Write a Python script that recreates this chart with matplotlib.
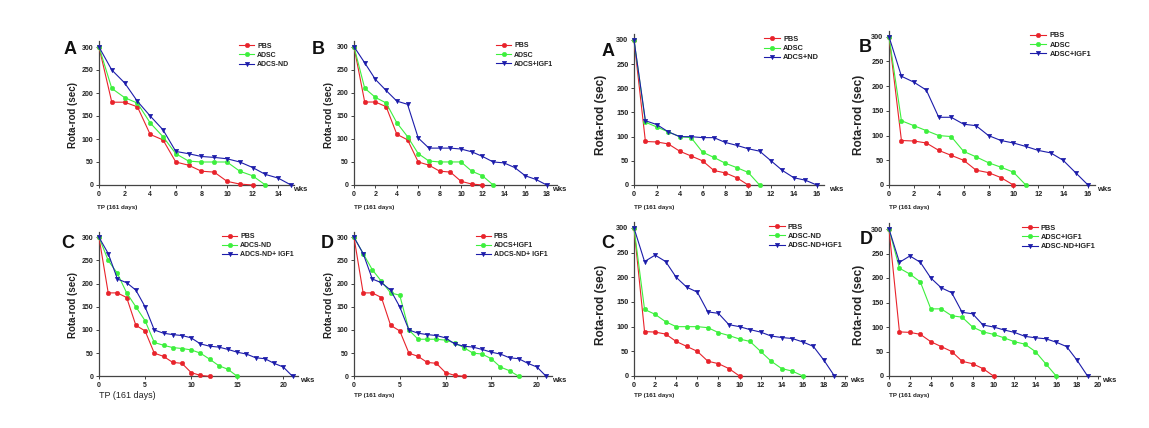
import matplotlib
matplotlib.use("Agg")
import matplotlib.pyplot as plt

plt.rcParams['font.family'] = ['Liberation Sans', 'DejaVu Sans']

W, H = 1149, 428

# ---------------- data ----------------
# left group
pbs_L = [300, 180, 180, 170, 110, 98, 50, 43, 30, 28, 8, 2, 0]
adsc_L = [300, 210, 190, 178, 135, 105, 68, 52, 50, 50, 50, 30, 20, 0]
adcsnd_L = [300, 250, 222, 182, 150, 120, 73, 68, 62, 60, 57, 50, 38, 23, 15, 0]
adcsigf_L = [300, 265, 229, 205, 182, 175, 102, 80, 80, 80, 78, 72, 62, 50, 48, 38, 20, 12, 0]
adcsnd_C = [300, 250, 222, 180, 150, 120, 73, 67, 62, 60, 57, 50, 37, 23, 15, 0]
adcsndigf_L = [300, 265, 210, 202, 186, 150, 100, 93, 90, 88, 83, 70, 65, 63, 58, 52, 48, 40, 38, 28, 20, 0]
adcsigf_D = [300, 265, 230, 205, 180, 175, 100, 80, 80, 80, 78, 72, 62, 50, 48, 38, 20, 12, 0]

# right group
pbs_R = [300, 90, 89, 85, 70, 60, 50, 30, 25, 15, 0]
adsc_R = [300, 130, 120, 110, 100, 98, 68, 57, 45, 36, 26, 0]
adscnd_R = [300, 133, 125, 110, 100, 100, 98, 98, 88, 82, 75, 70, 50, 30, 15, 10, 0]
adscigf_R = [300, 220, 208, 192, 137, 137, 123, 120, 100, 90, 85, 78, 70, 65, 50, 25, 0]
adscndC_R = [300, 135, 125, 110, 100, 100, 100, 98, 88, 82, 75, 70, 50, 30, 15, 10, 0]
adscndigf_R = [300, 232, 245, 232, 200, 180, 170, 130, 127, 104, 100, 94, 89, 81, 78, 76, 69, 60, 32, 0]

RED = '#e8232b'
GREEN = '#3def3d'
BLUE = '#1c1caa'

panels = [
    dict(letter='A', x0=99, xr=291, xref=15, xmax=15.2, y300=47, y0=185,
         xticks=list(range(0, 16, 2)),
         series=[pbs_L, adsc_L, adcsnd_L], labels=['PBS', 'ADSC', 'ADCS-ND'],
         ylabel=(73, 115, 7), letterpos=(70, 50), tp=(97, 207, 4.5, 'bold'), wks=(293, 186), fs=5),
    dict(letter='B', x0=354, xr=546.7, xref=18, xmax=19.0, y300=46.7, y0=185,
         xticks=list(range(0, 19, 2)),
         series=[pbs_L, adsc_L, adcsigf_L], labels=['PBS', 'ADSC', 'ADCS+IGF1'],
         ylabel=(329, 115, 7), letterpos=(318, 50), tp=(354, 207, 4.5, 'bold'), wks=(552, 186), fs=5),
    dict(letter='C', x0=99, xr=283.3, xref=20, xmax=21.6, y300=237.3, y0=376.3,
         xticks=[0, 5, 10, 15, 20],
         series=[pbs_L, adcsnd_C, adcsndigf_L], labels=['PBS', 'ADCS-ND', 'ADCS-ND+ IGF1'],
         ylabel=(73, 305, 7), letterpos=(68, 243), tp=(99, 395, 6.5, 'normal'), wks=(300, 377), fs=5),
    dict(letter='D', x0=354, xr=537, xref=20, xmax=21.6, y300=237.3, y0=376.3,
         xticks=[0, 5, 10, 15, 20],
         series=[pbs_L, adcsigf_D, adcsndigf_L], labels=['PBS', 'ADCS+IGF1', 'ADCS-ND+ IGF1'],
         ylabel=(329, 305, 7), letterpos=(327, 243), tp=(354, 396, 4.5, 'bold'), wks=(552, 377), fs=5),
    dict(letter='A', x0=634, xr=816.7, xref=16, xmax=16.6, y300=40, y0=185,
         xticks=list(range(0, 17, 2)),
         series=[pbs_R, adsc_R, adscnd_R], labels=['PBS', 'ADSC', 'ADCS+ND'],
         ylabel=(601, 115, 8.5), letterpos=(608, 52), tp=(634, 207, 4.5, 'bold'), wks=(829, 186), fs=5.3),
    dict(letter='B', x0=889, xr=1088, xref=16, xmax=16.6, y300=36.7, y0=185,
         xticks=list(range(0, 17, 2)),
         series=[pbs_R, adsc_R, adscigf_R], labels=['PBS', 'ADSC', 'ADSC+IGF1'],
         ylabel=(859, 115, 8.5), letterpos=(865, 48), tp=(889, 207, 4.5, 'bold'), wks=(1097, 186), fs=5.3),
    dict(letter='C', x0=634, xr=845, xref=20, xmax=20.2, y300=228, y0=376,
         xticks=list(range(0, 21, 2)),
         series=[pbs_R, adscndC_R, adscndigf_R], labels=['PBS', 'ADSC-ND', 'ADSC-ND+IGF1'],
         ylabel=(601, 305, 8.5), letterpos=(608, 243), tp=(634, 396, 4.5, 'bold'), wks=(850, 377), fs=5.3),
    dict(letter='D', x0=889, xr=1098, xref=20, xmax=20.2, y300=229, y0=376,
         xticks=list(range(0, 21, 2)),
         series=[pbs_R, adscigf_R, adscndigf_R], labels=['PBS', 'ADSC+IGF1', 'ADSC-ND+IGF1'],
         ylabel=(859, 305, 8.5), letterpos=(866, 240), tp=(889, 396, 4.5, 'bold'), wks=(1102, 377), fs=5.3),
]

YMAX = 312
colors = [RED, GREEN, BLUE]
markers = ['o', 'o', 'v']

fig = plt.figure(figsize=(W / 100, H / 100), dpi=100)

for p in panels:
    ppu = (p['xr'] - p['x0']) / p['xref']
    right = p['x0'] + ppu * p['xmax']
    ypu = (p['y0'] - p['y300']) / 300.0
    top = p['y0'] - ypu * YMAX
    ax = fig.add_axes([p['x0'] / W, 1 - p['y0'] / H, (right - p['x0']) / W, (p['y0'] - top) / H])
    ax.set_xlim(0, p['xmax'])
    ax.set_ylim(0, YMAX)
    for s, c, m, lab in zip(p['series'], colors, markers, p['labels']):
        ax.plot(range(len(s)), s, color=c, marker=m, markersize=3.3, linewidth=0.8,
                markeredgewidth=0.3, label=lab, clip_on=False, zorder=3)
    for sp in ['top', 'right']:
        ax.spines[sp].set_visible(False)
    for sp in ['left', 'bottom']:
        ax.spines[sp].set_linewidth(0.9)
        ax.spines[sp].set_color('#444444')
    ax.set_xticks(p['xticks'])
    ax.set_yticks([0, 50, 100, 150, 200, 250, 300])
    ax.tick_params(axis='both', labelsize=p['fs'], length=2, width=0.6, pad=2, colors='#222222')
    for t in ax.get_xticklabels() + ax.get_yticklabels():
        t.set_fontweight('bold')
    ax.patch.set_alpha(0)

    leg = ax.legend(loc='upper right', bbox_to_anchor=(1.0, 1.02), frameon=False,
                    fontsize=p['fs'], handlelength=2.2, handletextpad=0.4, labelspacing=0.3,
                    borderaxespad=0.2)
    for t in leg.get_texts():
        t.set_fontweight('bold')
        t.set_color('#222222')

    lx, ly, lfs = p['ylabel']
    fig.text(lx / W, 1 - ly / H, 'Rota-rod (sec)', rotation=90, fontsize=lfs,
             fontweight='bold', ha='center', va='center', color='#222222')
    x, y = p['letterpos']
    fig.text(x / W, 1 - y / H, p['letter'], fontsize=13, fontweight='bold',
             ha='center', va='center', color='#111111')
    tx, ty, tfs, tfw = p['tp']
    fig.text(tx / W, 1 - ty / H, 'TP (161 days)', fontsize=tfs, fontweight=tfw,
             ha='left', va='center', color='#222222')
    wx, wy = p['wks']
    fig.text(wx / W, 1 - wy / H, 'wks', fontsize=5.5, fontweight='bold',
             ha='left', va='top', color='#222222')

fig.savefig('out.png', dpi=100)
